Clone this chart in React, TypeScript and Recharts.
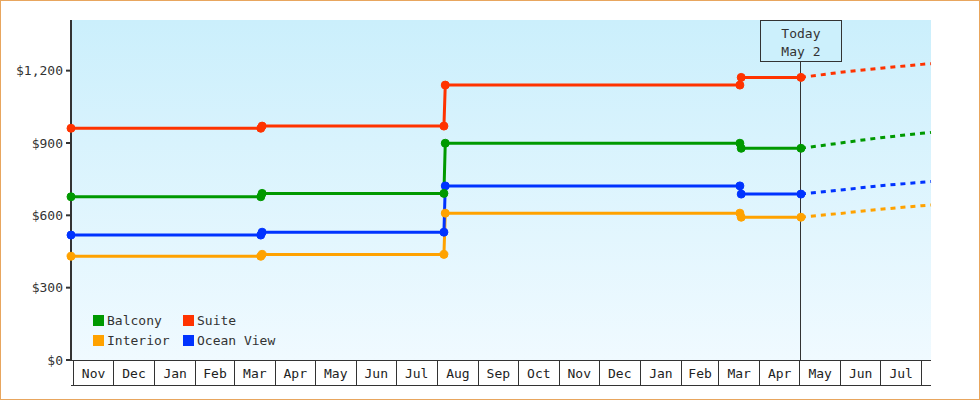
import React from "react";
import { LineChart, Line, XAxis, YAxis, CartesianGrid, ReferenceLine, Legend } from "recharts";

// ---------- data ----------
const seriesNames = ["Balcony", "Suite", "Interior", "Ocean View"];
const seriesColors = ["#009900", "#ff3300", "#ffa200", "#0033ff"];
const drawOrder = ["Interior", "Ocean View", "Balcony", "Suite"];

const historyDates = [
  "2023-10-30", "2024-03-21", "2024-03-22", "2024-08-06",
  "2024-08-07", "2025-03-17", "2025-03-18", "2025-05-02",
];
const balconyHistory = [677, 677, 691, 691, 899, 899, 878, 878];
const suiteHistory = [961, 961, 970, 970, 1140, 1140, 1172, 1172];
const interiorHistory = [430, 430, 438, 438, 609, 609, 592, 592];
const oceanViewHistory = [518, 518, 530, 530, 722, 722, 688, 688];

const forecastDates = ["2025-05-02", "2025-06-01", "2025-07-01", "2025-08-01", "2025-08-08"];
const balconyForecast = [878, 900, 922, 940, 944];
const suiteForecast = [1172, 1193, 1210, 1226, 1229];
const interiorForecast = [592, 608, 625, 640, 643];
const oceanViewForecast = [688, 705, 723, 737, 740];

const domainDates = ["2023-10-30", "2025-08-08"];
const todayDate = "2025-05-02";
const todayLines = ["Today", "May 2"];

const monthStarts = [
  "2023-11-01", "2023-12-01", "2024-01-01", "2024-02-01", "2024-03-01", "2024-04-01",
  "2024-05-01", "2024-06-01", "2024-07-01", "2024-08-01", "2024-09-01", "2024-10-01",
  "2024-11-01", "2024-12-01", "2025-01-01", "2025-02-01", "2025-03-01", "2025-04-01",
  "2025-05-01", "2025-06-01", "2025-07-01", "2025-08-01",
];
const monthLabels = [
  "Nov", "Dec", "Jan", "Feb", "Mar", "Apr", "May", "Jun", "Jul", "Aug", "Sep",
  "Oct", "Nov", "Dec", "Jan", "Feb", "Mar", "Apr", "May", "Jun", "Jul",
];

const yTicks = [0, 300, 600, 900, 1200];
const yDomain = [0, 1410];

// ---------- build table ----------
const ts = (s: string) => {
  const [y, m, d] = s.split("-").map(Number);
  return Date.UTC(y, m - 1, d);
};

const historyByName: Record<string, number[]> = {
  Balcony: balconyHistory,
  Suite: suiteHistory,
  Interior: interiorHistory,
  "Ocean View": oceanViewHistory,
};
const forecastByName: Record<string, number[]> = {
  Balcony: balconyForecast,
  Suite: suiteForecast,
  Interior: interiorForecast,
  "Ocean View": oceanViewForecast,
};

const rowMap = new Map<number, any>();
const getRow = (d: string) => {
  const t = ts(d);
  if (!rowMap.has(t)) rowMap.set(t, { t });
  return rowMap.get(t);
};
historyDates.forEach((d, i) => {
  const row = getRow(d);
  seriesNames.forEach((n) => (row[n] = historyByName[n][i]));
});
forecastDates.forEach((d, i) => {
  const row = getRow(d);
  seriesNames.forEach((n) => (row[n + "_f"] = forecastByName[n][i]));
});
const tableData = Array.from(rowMap.values()).sort((a, b) => a.t - b.t);

const boundaryTs = monthStarts.map(ts);
const boundarySet = new Set(boundaryTs);
const labelByMid = new Map<number, string>();
monthLabels.forEach((l, i) => labelByMid.set((boundaryTs[i] + boundaryTs[i + 1]) / 2, l));
const xTicks = [...boundaryTs, ...Array.from(labelByMid.keys())].sort((a, b) => a - b);
const xDomain = domainDates.map(ts);

const colorOf = (n: string) => seriesColors[seriesNames.indexOf(n)];
const FONT = "'DejaVu Sans Mono', monospace";

const AxisTick = (props: any) => {
  const { x, y, payload } = props;
  const v = payload.value;
  if (boundarySet.has(v)) {
    return <line x1={x} y1={y} x2={x} y2={y + 25} stroke="#333" strokeWidth={1} shapeRendering="crispEdges" />;
  }
  return (
    <text x={x} y={y + 18} textAnchor="middle" fontFamily={FONT} fontSize={13} fill="#222">
      {labelByMid.get(v)}
    </text>
  );
};

const TodayLabel = (props: any) => {
  const vb = props.viewBox || {};
  const x = vb.x;
  const y = vb.y;
  return (
    <g>
      <rect
        x={x - 40.5}
        y={y + 0.5}
        width={81}
        height={41}
        fill="#ccf0fc"
        stroke="#333"
        strokeWidth={1}
        shapeRendering="crispEdges"
      />
      <text x={x} y={y + 18} textAnchor="middle" fontFamily={FONT} fontSize={13} fill="#333">
        {todayLines[0]}
      </text>
      <text x={x} y={y + 36} textAnchor="middle" fontFamily={FONT} fontSize={13} fill="#333">
        {todayLines[1]}
      </text>
    </g>
  );
};

const LegendBox = () => (
  <div
    style={{
      display: "grid",
      gridTemplateColumns: "90px 110px",
      gridAutoRows: "20px",
      fontFamily: FONT,
      fontSize: 13,
      color: "#333",
    }}
  >
    {seriesNames.map((n) => (
      <div key={n} style={{ display: "flex", alignItems: "center", whiteSpace: "nowrap" }}>
        <span style={{ display: "inline-block", width: 11, height: 11, background: colorOf(n), marginRight: 3 }} />
        <span>{n}</span>
      </div>
    ))}
  </div>
);

export default function App() {
  return (
    <div
      style={{
        position: "absolute",
        left: 0,
        top: 0,
        width: 980,
        height: 400,
        boxSizing: "border-box",
        border: "1px solid #e8a65e",
        background: "#fff",
        fontFamily: FONT,
      }}
    >
      <LineChart width={978} height={398} data={tableData} margin={{ top: 19, right: 48, left: 0, bottom: 0 }}>
        <defs>
          <linearGradient id="bgGrad" x1="0" y1="0" x2="0" y2="1">
            <stop offset="0%" stopColor="#cbeffc" />
            <stop offset="100%" stopColor="#f0faff" />
          </linearGradient>
        </defs>
        <CartesianGrid horizontal={false} vertical={false} fill="url(#bgGrad)" stroke="none" />
        <XAxis
          dataKey="t"
          type="number"
          domain={xDomain}
          ticks={xTicks}
          interval={0}
          height={25}
          tickSize={0}
          tickMargin={0}
          tickLine={false}
          axisLine={{ stroke: "#333", strokeWidth: 1, shapeRendering: "crispEdges" }}
          tick={(p: any) => <AxisTick {...p} />}
        />
        <XAxis
          xAxisId="b"
          dataKey="t"
          type="number"
          domain={xDomain}
          height={14}
          tick={false}
          tickLine={false}
          axisLine={{ stroke: "#333", strokeWidth: 1, shapeRendering: "crispEdges" }}
        />
        <YAxis
          type="number"
          domain={yDomain}
          ticks={yTicks}
          interval={0}
          width={70}
          tickSize={5}
          tickMargin={3}
          tickFormatter={(v: number) => "$" + v.toLocaleString("en-US")}
          axisLine={{ stroke: "#333", strokeWidth: 2 }}
          tickLine={{ stroke: "#333", strokeWidth: 2 }}
          tick={{ fill: "#333", fontSize: 13, fontFamily: FONT }}
        />
        <ReferenceLine
          x={ts(todayDate)}
          stroke="#333"
          strokeWidth={1}
          shapeRendering="crispEdges"
          label={<TodayLabel />}
        />
        {drawOrder.map((n) => (
          <Line
            key={n + "_f"}
            dataKey={n + "_f"}
            type="linear"
            stroke={colorOf(n)}
            strokeWidth={3}
            strokeDasharray="5 5"
            dot={false}
            activeDot={false}
            isAnimationActive={false}
            legendType="none"
          />
        ))}
        {drawOrder.map((n) => (
          <Line
            key={n}
            dataKey={n}
            name={n}
            type="linear"
            stroke={colorOf(n)}
            strokeWidth={3}
            dot={{ r: 4, fill: colorOf(n), stroke: colorOf(n), strokeWidth: 1 }}
            activeDot={false}
            isAnimationActive={false}
          />
        ))}
        <Legend
          layout="horizontal"
          verticalAlign="middle"
          align="center"
          content={() => <LegendBox />}
          wrapperStyle={{ position: "absolute", left: 92, top: 309, width: 220, height: 40 }}
        />
      </LineChart>
    </div>
  );
}
